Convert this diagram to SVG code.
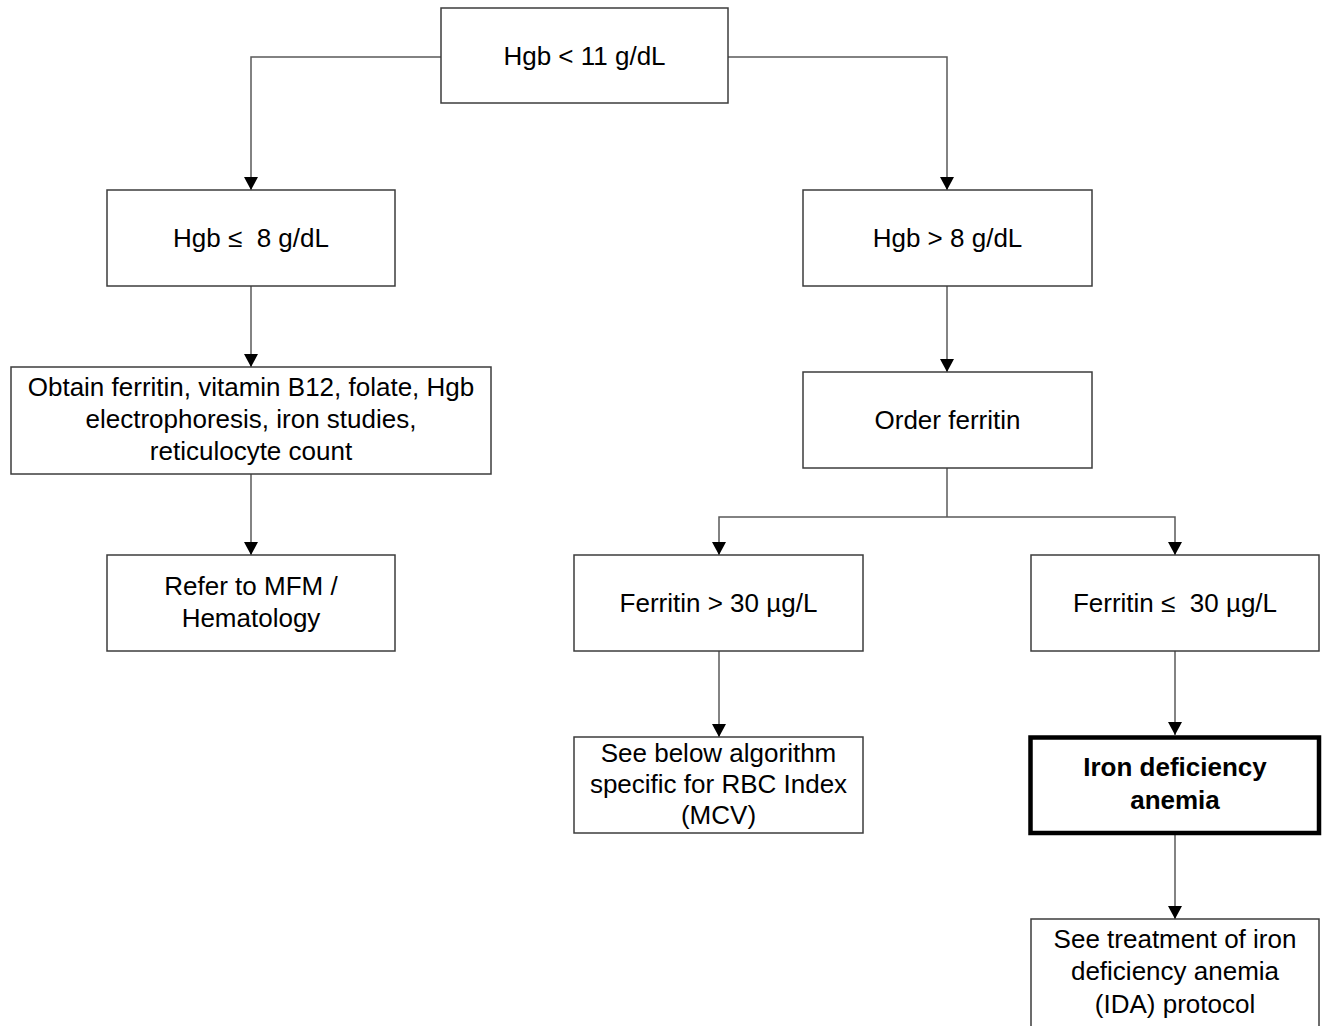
<svg xmlns="http://www.w3.org/2000/svg" width="1325" height="1026" viewBox="0 0 1325 1026">
<defs>
<marker id="arr" viewBox="0 0 13 14" refX="13" refY="7" markerWidth="13" markerHeight="14" markerUnits="userSpaceOnUse" orient="auto">
<path d="M0,0 L13,7 L0,14 Z" fill="#000"/>
</marker>
<style>
.box{fill:#fff;stroke:#3c3c3c;stroke-width:1.5}
.bold{fill:#fff;stroke:#000;stroke-width:4.5}
.t{font-family:"Liberation Sans",Arial,sans-serif;font-size:26px;fill:#000;text-anchor:middle;white-space:pre}
.tb{font-family:"Liberation Sans",Arial,sans-serif;font-size:26px;font-weight:bold;fill:#000;text-anchor:middle}
.c{fill:none;stroke:#5a5a5a;stroke-width:1.5}
.ca{fill:none;stroke:#5a5a5a;stroke-width:1.5;marker-end:url(#arr)}
</style>
</defs>
<rect width="1325" height="1026" fill="#fff"/>
<g id="connectors">
<path class="ca" d="M441,57 H251 V190"/>
<path class="ca" d="M728,57 H947 V190"/>
<path class="ca" d="M251,286 V367"/>
<path class="ca" d="M251,474 V555"/>
<path class="ca" d="M947,286 V372"/>
<path class="c" d="M947,468 V517"/>
<path class="ca" d="M947,517 H719 V555"/>
<path class="ca" d="M947,517 H1175 V555"/>
<path class="ca" d="M719,651 V737"/>
<path class="ca" d="M1175,651 V735"/>
<path class="ca" d="M1175,835 V919"/>
</g>
<g id="n1"><rect class="box" x="441" y="8" width="287" height="95"/><text class="t" x="584.5" y="64.5">Hgb &lt; 11 g/dL</text></g>
<g id="n2"><rect class="box" x="107" y="190" width="288" height="96"/><text class="t" x="251" y="247" xml:space="preserve">Hgb ≤  8 g/dL</text></g>
<g id="n3"><rect class="box" x="803" y="190" width="289" height="96"/><text class="t" x="947.5" y="247">Hgb &gt; 8 g/dL</text></g>
<g id="n4"><rect class="box" x="11" y="367" width="480" height="107"/>
<text class="t" x="251" y="396">Obtain ferritin, vitamin B12, folate, Hgb</text>
<text class="t" x="251" y="428">electrophoresis, iron studies,</text>
<text class="t" x="251" y="460">reticulocyte count</text></g>
<g id="n5"><rect class="box" x="803" y="372" width="289" height="96"/><text class="t" x="947.5" y="429">Order ferritin</text></g>
<g id="n6"><rect class="box" x="107" y="555" width="288" height="96"/>
<text class="t" x="251" y="595">Refer to MFM /</text>
<text class="t" x="251" y="627">Hematology</text></g>
<g id="n7"><rect class="box" x="574" y="555" width="289" height="96"/><text class="t" x="718.5" y="612">Ferritin &gt; 30 µg/L</text></g>
<g id="n8"><rect class="box" x="1031" y="555" width="288" height="96"/><text class="t" x="1175" y="612" xml:space="preserve">Ferritin ≤  30 µg/L</text></g>
<g id="n9"><rect class="box" x="574" y="737" width="289" height="96"/>
<text class="t" x="718.5" y="762">See below algorithm</text>
<text class="t" x="718.5" y="793">specific for RBC Index</text>
<text class="t" x="718.5" y="824">(MCV)</text></g>
<g id="n10"><rect class="bold" x="1030.5" y="737.5" width="288.5" height="95.5"/>
<text class="tb" x="1175" y="776">Iron deficiency</text>
<text class="tb" x="1175" y="809">anemia</text></g>
<g id="n11"><rect class="box" x="1031" y="919" width="288" height="120"/>
<text class="t" x="1175" y="948">See treatment of iron</text>
<text class="t" x="1175" y="980">deficiency anemia</text>
<text class="t" x="1175" y="1013">(IDA) protocol</text></g>
</svg>
